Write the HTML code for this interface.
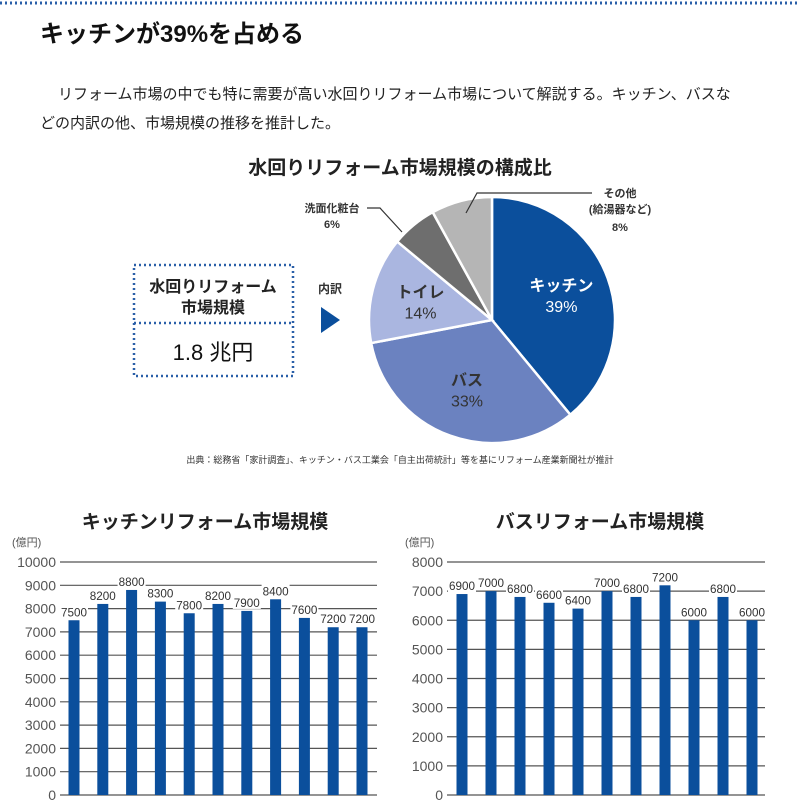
<!DOCTYPE html>
<html><head><meta charset="utf-8">
<style>
body{margin:0;background:#fff;width:800px;height:800px;overflow:hidden;font-family:"Liberation Sans","Noto Sans CJK JP",sans-serif;}
svg text{font-family:"Liberation Sans","Noto Sans CJK JP",sans-serif;}
</style></head>
<body>
<svg width="800" height="800" viewBox="0 0 800 800">
<line x1="0" y1="3" x2="800" y2="3" stroke="#2a5fa8" stroke-width="3" stroke-dasharray="2 3"/>
<text x="40" y="42" font-size="24" font-weight="bold" fill="#111">キッチンが39%を占める</text>
<text x="58" y="99" font-size="15" fill="#222">リフォーム市場の中でも特に需要が高い水回りリフォーム市場について解説する。キッチン、バスな</text>
<text x="40" y="128" font-size="15" fill="#222">どの内訳の他、市場規模の推移を推計した。</text>
<text x="400" y="174" font-size="19" font-weight="bold" fill="#222" text-anchor="middle">水回りリフォーム市場規模の構成比</text>

<g>
<rect x="134" y="265" width="159" height="111" fill="none" stroke="#2a5fa8" stroke-width="2.5" stroke-dasharray="2 3"/>
<line x1="134" y1="323" x2="293" y2="323" stroke="#2a5fa8" stroke-width="2.5" stroke-dasharray="2 3"/>
<text x="213" y="292" font-size="16" font-weight="bold" fill="#222" text-anchor="middle">水回りリフォーム</text>
<text x="213" y="313" font-size="16" font-weight="bold" fill="#222" text-anchor="middle">市場規模</text>
<text x="213" y="360" font-size="22" fill="#111" text-anchor="middle">1.8 兆円</text>
</g>
<text x="318" y="293" font-size="12" font-weight="bold" fill="#333">内訳</text>
<polygon points="321,307 340,320 321,333" fill="#0b4f9c"/>

<g id="pie"></g>
<g>
<polyline points="367,208 380,208 402,232" fill="none" stroke="#333" stroke-width="1.2"/>
<text x="332" y="212" font-size="11" font-weight="bold" fill="#333" text-anchor="middle">洗面化粧台</text>
<text x="332" y="228" font-size="11" font-weight="bold" fill="#333" text-anchor="middle">6%</text>
<polyline points="592,193 477,193 466,213" fill="none" stroke="#333" stroke-width="1.2"/>
<text x="620" y="197" font-size="11" font-weight="bold" fill="#333" text-anchor="middle">その他</text>
<text x="620" y="213" font-size="11" font-weight="bold" fill="#333" text-anchor="middle">(給湯器など)</text>
<text x="620" y="231" font-size="11" font-weight="bold" fill="#333" text-anchor="middle">8%</text>
</g>
<text x="400" y="463" font-size="9" fill="#333" text-anchor="middle">出典：総務省「家計調査」、キッチン・バス工業会「自主出荷統計」等を基にリフォーム産業新聞社が推計</text>

<text x="205" y="528" font-size="19" font-weight="bold" fill="#222" text-anchor="middle">キッチンリフォーム市場規模</text>
<text x="12" y="546" font-size="11" fill="#555">(億円)</text>
<g id="kchart"></g>
<text x="600" y="528" font-size="19" font-weight="bold" fill="#222" text-anchor="middle">バスリフォーム市場規模</text>
<text x="405" y="546" font-size="11" fill="#555">(億円)</text>
<g id="bchart"></g>
</svg>
<script>
const pieLabels=["キッチン","バス","トイレ","洗面化粧台","その他"];
const pieValues=[39,33,14,6,8];
const pieColors=["#0b4f9c","#6b82c0","#aab6e0","#6e6e6e","#b5b5b5"];
const kitchenValues=[7500,8200,8800,8300,7800,8200,7900,8400,7600,7200,7200];
const kitchenTicks=[0,1000,2000,3000,4000,5000,6000,7000,8000,9000,10000];
const bathValues=[6900,7000,6800,6600,6400,7000,6800,7200,6000,6800,6000];
const bathTicks=[0,1000,2000,3000,4000,5000,6000,7000,8000];
const NS="http://www.w3.org/2000/svg";
function mk(tag,attrs,parent){const e=document.createElementNS(NS,tag);for(const k in attrs)e.setAttribute(k,attrs[k]);parent.appendChild(e);return e;}
// pie
(function(){
const g=document.getElementById('pie');const cx=492,cy=320,r=123;
const total=pieValues.reduce((a,b)=>a+b,0);let a0=0;
pieValues.forEach((v,i)=>{
 const a1=a0+v/total*2*Math.PI;
 const x0=cx+r*Math.sin(a0),y0=cy-r*Math.cos(a0),x1=cx+r*Math.sin(a1),y1=cy-r*Math.cos(a1);
 const p=mk('path',{d:`M${cx},${cy}L${x0},${y0}A${r},${r} 0 ${a1-a0>Math.PI?1:0} 1 ${x1},${y1}Z`,fill:pieColors[i],stroke:'#fff','stroke-width':2.5},g);
 
 
 if(i<3){const am=(a0+a1)/2,rr=r*0.6;const tx=cx+rr*Math.sin(am),ty=cy-rr*Math.cos(am);
  const col=i==0?'#fff':'#333';
  const t1=mk('text',{x:tx,y:ty-4,'font-size':16,'font-weight':'bold',fill:col,'text-anchor':'middle'},g);t1.textContent=pieLabels[i];
  
  
  const t2=mk('text',{x:tx,y:ty+17,'font-size':16,fill:col,'text-anchor':'middle'},g);t2.textContent=v+'%';
  
  }
 a0=a1;});
})();
function bars(id,vals,ticks,x0,x1,yTop,yBot,firstC,step){
 const g=document.getElementById(id);const max=ticks[ticks.length-1];
 const y=v=>yBot-(v/max)*(yBot-yTop);
 ticks.forEach(t=>{
  const l=mk('line',{x1:x0,x2:x1,y1:y(t),y2:y(t),stroke:'#555','stroke-width':1.2},g);
  
  
  const tx=mk('text',{x:x0-4,y:y(t)+5,'font-size':14,fill:'#555','text-anchor':'end'},g);tx.textContent=t;
  
  });
 vals.forEach((v,i)=>{const c=firstC+i*step;
  const r=mk('rect',{x:c-5.5,y:y(v),width:11,height:yBot-y(v),fill:'#0b4f9c'},g);
  
  
  const bg=mk('rect',{x:c-14,y:y(v)-15,width:28,height:13,fill:'#fff'},g);
  
  
  const t=mk('text',{x:c,y:y(v)-4,'font-size':12,fill:'#333','text-anchor':'middle','textLength':26,'lengthAdjust':'spacingAndGlyphs'},g);t.textContent=v;
  
  });
}
bars('kchart',kitchenValues,kitchenTicks,60,377,562,795,74,28.8);
bars('bchart',bathValues,bathTicks,447,765,562,795,462,29);
</script>
</body></html>
